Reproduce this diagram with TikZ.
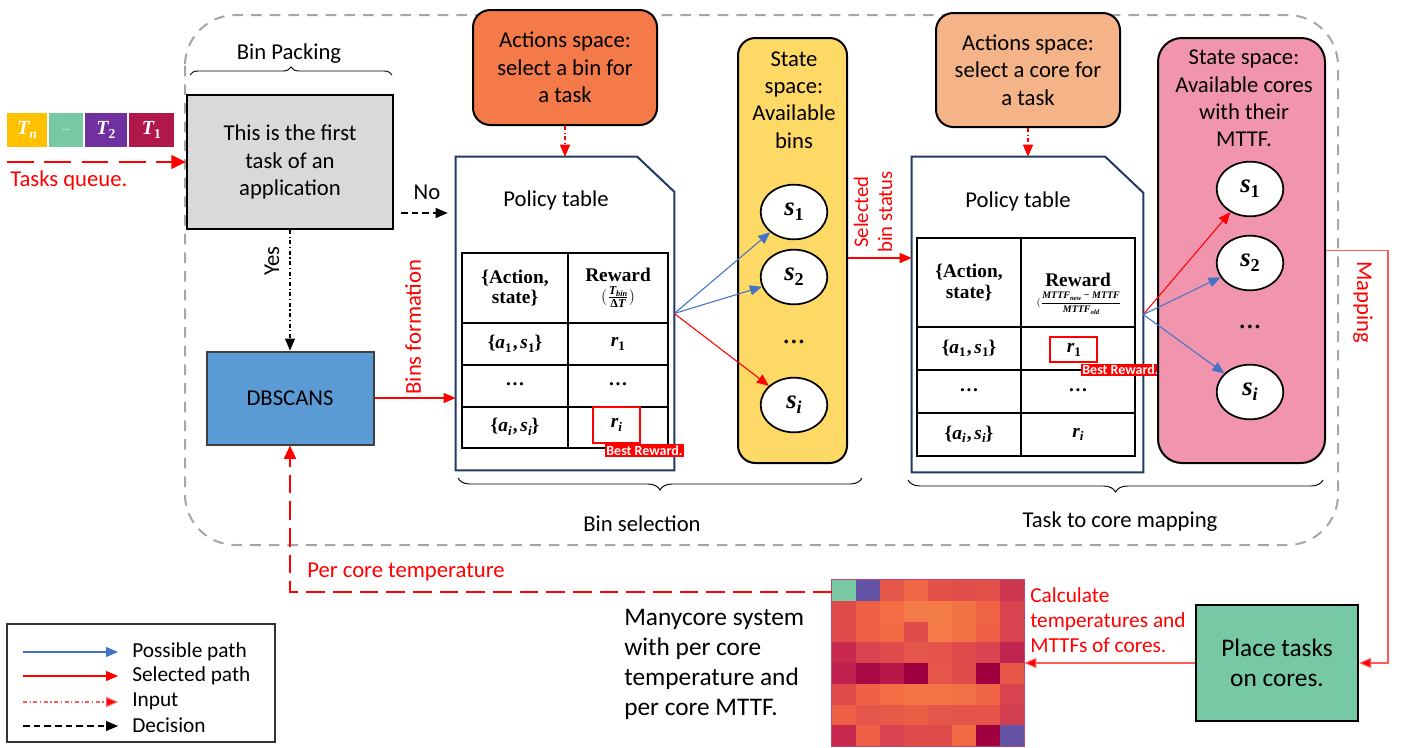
\documentclass[tikz,border=0pt]{standalone}
\usepackage{fontspec}
\setmainfont{Carlito}
\newfontfamily\serifb{Liberation Serif}
\usepackage{amsmath,graphicx}
\usetikzlibrary{arrows.meta,shapes.geometric,decorations.pathreplacing,calc}

\definecolor{actA}{HTML}{F47A4A}
\definecolor{actB}{HTML}{F4B487}
\definecolor{stA}{HTML}{FFD966}
\definecolor{stB}{HTML}{F195AF}
\definecolor{grayfill}{HTML}{D9D9D9}
\definecolor{dbblue}{HTML}{5B9BD5}
\definecolor{teal}{HTML}{77C8A4}
\definecolor{qyellow}{HTML}{FFC000}
\definecolor{qpurple}{HTML}{7030A0}
\definecolor{qcrimson}{HTML}{B0174B}
\definecolor{pathblue}{HTML}{4472C4}
\definecolor{navy}{HTML}{203864}
\definecolor{frame}{HTML}{A6A6A6}
\definecolor{softred}{HTML}{FF5A5A}

% bold italic variable with a smaller lowered index
\newcommand{\mv}[2]{{\serifb\bfseries\itshape #1}\raisebox{-0.4ex}{\scalebox{0.68}{\serifb\bfseries #2}}}
\newcommand{\pair}[2]{{\serifb\bfseries\{\mv{#1}{1}\kern1pt,\kern2pt\mv{#2}{1}\}}}
\newcommand{\pairi}[2]{{\serifb\bfseries\{\mv{#1}{\itshape i}\kern1pt,\kern2pt\mv{#2}{\itshape i}\}}}

\begin{document}
\begin{tikzpicture}[x=0.75pt,y=-0.75pt,
  txt/.style={font=\fontsize{17}{20.5}\selectfont, align=center, inner sep=0pt},
  box/.style={txt, draw=black, line width=1.5pt},
  rbox/.style={box, rounded corners=13pt},
  stnode/.style={ellipse, draw=black, line width=1.3pt, fill=white, minimum width=50pt, minimum height=41pt, inner sep=0pt, font=\fontsize{20}{20}\selectfont},
  tip/.style={-{Triangle[length=9pt,width=7.5pt]}},
  sel/.style={draw=red, line width=0.8pt, tip},
  poss/.style={draw=pathblue, line width=0.8pt, tip},
  inp/.style={draw=red, line width=0.8pt, dash dot, -{Triangle[length=9pt,width=7.5pt,fill=red]}},
  decis/.style={draw=black, line width=0.8pt, dash pattern=on 5pt off 3pt, tip},
  redlbl/.style={txt, text=red},
  tbl/.style={draw=black, line width=1.3pt},
  cell/.style={inner sep=0pt, align=center, font=\serifb\bfseries\fontsize{14.5}{15.5}\selectfont},
  best/.style={fill=red, text=white, inner sep=1pt, font=\bfseries\fontsize{10.5}{11}\selectfont},
  qsq/.style={minimum height=25.5pt, inner sep=0pt, text=white, font=\fontsize{15}{15}\selectfont},
  brc/.style={decorate, decoration={brace, amplitude=6pt}, line width=0.7pt},
  bigbrc/.style={decorate, decoration={brace, amplitude=9pt}, line width=0.7pt},
  legtxt/.style={font=\fontsize{16}{16}\selectfont, anchor=west, inner sep=0pt}
]
\useasboundingbox (0,0) rectangle (1403,747);

% outer dashed frame
\draw[frame, line width=1.5pt, dash pattern=on 8pt off 6pt, rounded corners=38pt] (185,15) rectangle (1338,545);

% task queue
\node[qsq, fill=qyellow, minimum width=30pt] (tn) at (27,130) {\mv{T}{\itshape n}};
\node[qsq, fill=teal, minimum width=25.5pt, font=\fontsize{7}{7}\selectfont] (tdots) at (66,130) {...};
\node[qsq, fill=qpurple, minimum width=31.5pt] (t2) at (106,130) {\mv{T}{2}};
\node[qsq, fill=qcrimson, minimum width=33.75pt] (t1) at (151.5,130) {\mv{T}{1}};
\coordinate (qstart) at (7,162);
\node[redlbl, anchor=west] (tq) at (10,180) {Tasks queue.};

% bin packing boxes
\node[box, fill=grayfill, minimum width=154.5pt, minimum height=100.5pt] (first) at (290,162) {This is the first\\task of an\\application};
\node[box, fill=dbblue, draw=black!75, minimum width=125.25pt, minimum height=69.75pt] (db) at (290,398) {DBSCANS};
\draw[red, line width=2.2pt, dash pattern=on 20pt off 8pt, -{Triangle[length=11pt,width=10pt]}] (qstart) -- (first.west);

\draw[brc] (190,75) -- (392,75);
\node[txt] (bp) at (289,54) {Bin Packing};

\draw[draw=black, line width=0.8pt, dash dot, tip] (first.south) -- (db.north);
\node[txt, rotate=90] (yes) at (272,261) {Yes};

% action spaces
\node[rbox, fill=actA, minimum width=138pt, minimum height=86.25pt] (act1) at (565,67.5) {Actions space:\\select a bin for\\a task};
\node[rbox, fill=actB, minimum width=138pt, minimum height=85.5pt] (act2) at (1028,70) {Actions space:\\select a core for\\a task};

% policy table 1
\node[minimum width=163.5pt, minimum height=234.75pt, inner sep=0pt] (pt1) at (565,313.5) {};
\draw[navy, line width=1.5pt] (pt1.south west) -- (pt1.north west) -- ($(pt1.north east)+(-37,0)$) -- ($(pt1.north east)+(0,35)$) -- (pt1.south east) -- cycle;
\node[txt] (pt1t) at (556,200) {Policy table};
\draw[tbl] (462,253) rectangle (668,448);
\draw[tbl] (568,253) -- (568,448);
\foreach \yy in {323,365,407} \draw[tbl] (462,\yy) -- (668,\yy);
\node[cell] (a1h) at (515,288) {\{Action,\\state\}};
\node[cell, anchor=south] (a1r) at (618,282) {Reward};
\node[cell, anchor=north] (a1rf) at (618,286) {\fontsize{13}{13}\selectfont$(\frac{\text{\mv{T}{\itshape bin}}}{\text{\serifb\bfseries Δ\itshape T}})$};
\node[cell] (a1c1) at (515,344) {\pair{a}{s}};
\node[cell] (a1c2) at (618,344) {\mv{r}{1}};
\node[cell] (a1c3) at (515,384) {…};
\node[cell] (a1c4) at (618,384) {…};
\node[cell] (a1c5) at (515,427) {\pairi{a}{s}};
\node[cell] (a1c6) at (616.5,425) {\mv{r}{\itshape i}};
\draw[red, line width=1.3pt] (593,407) rectangle (640,443);
\node[best] (best1) at (644.5,450.5) {Best Reward.};

% policy table 2
\node[minimum width=173.25pt, minimum height=236.25pt, inner sep=0pt] (pt2) at (1027.5,314.5) {};
\draw[navy, line width=1.5pt] (pt2.south west) -- (pt2.north west) -- ($(pt2.north east)+(-38,0)$) -- ($(pt2.north east)+(0,36)$) -- (pt2.south east) -- cycle;
\node[txt] (pt2t) at (1018,201) {Policy table};
\draw[tbl] (917,238) rectangle (1135,456);
\draw[tbl] (1021,238) -- (1021,456);
\foreach \yy in {327,370,413} \draw[tbl] (917,\yy) -- (1135,\yy);
\node[cell] (a2h) at (969,282.5) {\{Action,\\state\}};
\node[cell, anchor=south] (a2r) at (1078,287) {Reward};
\node[cell, anchor=north] (a2rf) at (1079,292) {\fontsize{7.5}{8}\selectfont$(\dfrac{\text{\mv{MTTF}{\itshape new} − \mv{MTTF}{}}}{\text{\mv{MTTF}{\itshape old}}}$};
\node[cell] (a2c1) at (969,348.5) {\pair{a}{s}};
\node[cell] (a2c2) at (1074,350) {\mv{r}{1}};
\node[cell] (a2c3) at (969,390) {…};
\node[cell] (a2c4) at (1078,390) {…};
\node[cell] (a2c5) at (969,434.5) {\pairi{a}{s}};
\node[cell] (a2c6) at (1078,434.5) {\mv{r}{\itshape i}};
\draw[red, line width=1.3pt] (1050,337) rectangle (1097,362);
\node[best] (best2) at (1120.5,370) {Best Reward.};

% state space 1
\node[draw=black, line width=1.5pt, rounded corners=13pt, fill=stA, minimum width=81.75pt, minimum height=318.75pt, inner sep=0pt] (st1) at (792.5,250.5) {};
\node[txt] (st1t) at (794,100) {State\\space:\\Available\\bins};
\node[stnode] (b1) at (794,212) {\mv{s}{1}};
\node[stnode] (b2) at (794,277) {\mv{s}{2}};
\node[txt, font=\serifb\bfseries\fontsize{17}{17}\selectfont] (bd) at (794,342) {…};
\node[stnode] (bi) at (794,405) {\mv{s}{\itshape i}};

% state space 2
\node[draw=black, line width=1.5pt, rounded corners=18pt, fill=stB, minimum width=125.25pt, minimum height=318.75pt, inner sep=0pt] (st2) at (1241.5,250.5) {};
\node[txt] (st2t) at (1244,98.5) {State space:\\Available cores\\with their\\MTTF.};
\node[stnode] (c1) at (1250,189) {\mv{s}{1}};
\node[stnode] (c2) at (1250,263) {\mv{s}{2}};
\node[txt, font=\serifb\bfseries\fontsize{17}{17}\selectfont] (cd) at (1250,327) {…};
\node[stnode] (ci) at (1250,392) {\mv{s}{\itshape i}};

% connectors around the tables
\draw[decis] ($(first.east)+(7,51)$) -- ($(first.east -| pt1.west)+(-8,51)$);
\node[txt] (no) at (427,192) {No};
\draw[sel] (db.east) -- (db.east -| pt1.west);
\node[redlbl, rotate=90] (bf) at (413,327) {Bins formation};
\draw[inp] (act1.south) -- (pt1.north);
\draw[inp] (act2.south) -- (act2.south |- pt2.north);
\draw[poss] (pt1.east) -- (b1);
\draw[poss] (pt1.east) -- (b2);
\draw[sel] (pt1.east) -- (bi);
\draw[sel] ($(st1.east)+(0,7.5)$) -- ($(st1.east -| pt2.west)+(0,7.5)$);
\node[redlbl, rotate=90, font=\fontsize{15.5}{18}\selectfont] (sbs) at (873,212) {Selected\\bin status};
\draw[sel] (pt2.east) -- (c1);
\draw[poss] (pt2.east) -- (c2);
\draw[poss] (pt2.east) -- (ci);

% braces below the tables
\draw[bigbrc] (862,478) -- (458,478);
\node[txt] (bsel) at (642,524) {Bin selection};
\draw[bigbrc] (1323,480) -- (908,480);
\node[txt] (tcm) at (1120,522) {Task to core mapping};

% placement and manycore heat map
\node[box, fill=teal, minimum width=121.5pt, minimum height=87pt, font=\fontsize{19}{22.5}\selectfont] (place) at (1277,663) {Place tasks\\on cores.};
\draw[draw=softred, line width=0.8pt, -{Triangle[length=9pt,width=7.5pt,fill=red]}] (st2.east) -- ++(62,0) |- (place.east);
\node[redlbl, rotate=-90] (map) at (1363,302) {Mapping};

\node[minimum width=144pt, minimum height=124.5pt, inner sep=0pt] (heat) at (928,663) {};
\foreach \c [count=\i from 0] in {
  78C8A4,6452A4,E4564A,EE6645,E4504A,E24E4A,E2504A,CD3850,
  DF4A4B,EE6045,F26C44,F47A47,F47C47,F27445,EE6445,D84450,
  DF4A4B,EE6045,F06A44,DF4A4B,F47A47,F27245,EE6045,D84450,
  C8284E,D84450,DF4A4B,E4564A,E4524A,DF4A4B,D84450,C02550,
  C0204E,A80845,B81848,A00040,E4564A,DF4A4B,A00040,E85848,
  DF4A4B,EE6045,F26C44,F47447,F47447,F27045,EE6445,D84450,
  EE6045,E4564A,E85A48,EA5E46,E4564A,E4544A,E4544A,D03E50,
  C8284E,EE6045,D84450,DF4A4B,DF4A4B,F06A44,A00040,6452A4}{
  \pgfmathtruncatemacro{\col}{mod(\i,8)}
  \pgfmathtruncatemacro{\row}{\i/8}
  \pgfmathsetmacro{\xa}{832+24*\col}
  \pgfmathsetmacro{\ya}{580+20.75*\row}
  \definecolor{cellc}{HTML}{\c}
  \fill[cellc] (\xa,\ya) rectangle ++(24,20.75);
}
\draw[draw=qcrimson!80, line width=0.8pt] (heat.south west) rectangle (heat.north east);
\draw[draw=softred, line width=0.8pt, -{Triangle[length=9pt,width=7.5pt,fill=red]}] (place.west) -- (heat.east);
\node[redlbl, anchor=west, align=left, font=\fontsize{16}{18.75}\selectfont] (calc) at (1030,620) {Calculate\\temperatures and\\MTTFs of cores.};
\node[txt, anchor=west, align=left, font=\fontsize{19}{22.5}\selectfont] (many) at (624,664) {Manycore system\\with per core\\temperature and\\per core MTTF.};

\draw[red, line width=1.5pt, dash pattern=on 14pt off 6pt, -{Triangle[length=10pt,width=9pt]}] ($(heat.north west)+(0,12)$) -| (db.south);
\node[redlbl, anchor=west] (pct) at (307,572) {Per core temperature};

% legend
\node[draw=black!80, line width=0.8pt, minimum width=201pt, minimum height=88.5pt, inner sep=0pt] (leg) at (141,683) {};
\coordinate (l1a) at (23,652); \coordinate (l1b) at (118,652);
\coordinate (l2a) at (23,676); \coordinate (l2b) at (118,676);
\coordinate (l3a) at (23,702); \coordinate (l3b) at (118,702);
\coordinate (l4a) at (23,726); \coordinate (l4b) at (118,726);
\draw[poss] (l1a) -- (l1b);
\draw[sel] (l2a) -- (l2b);
\draw[draw=softred, line width=0.8pt, dash dot, -{Triangle[length=9pt,width=7.5pt,fill=red]}] (l3a) -- (l3b);
\draw[decis] (l4a) -- (l4b);
\node[legtxt] (lg1) at (132,652) {Possible path};
\node[legtxt] (lg2) at (132,676) {Selected path};
\node[legtxt] (lg3) at (132,701) {Input};
\node[legtxt] (lg4) at (132,725) {Decision};
\end{tikzpicture}
\end{document}
